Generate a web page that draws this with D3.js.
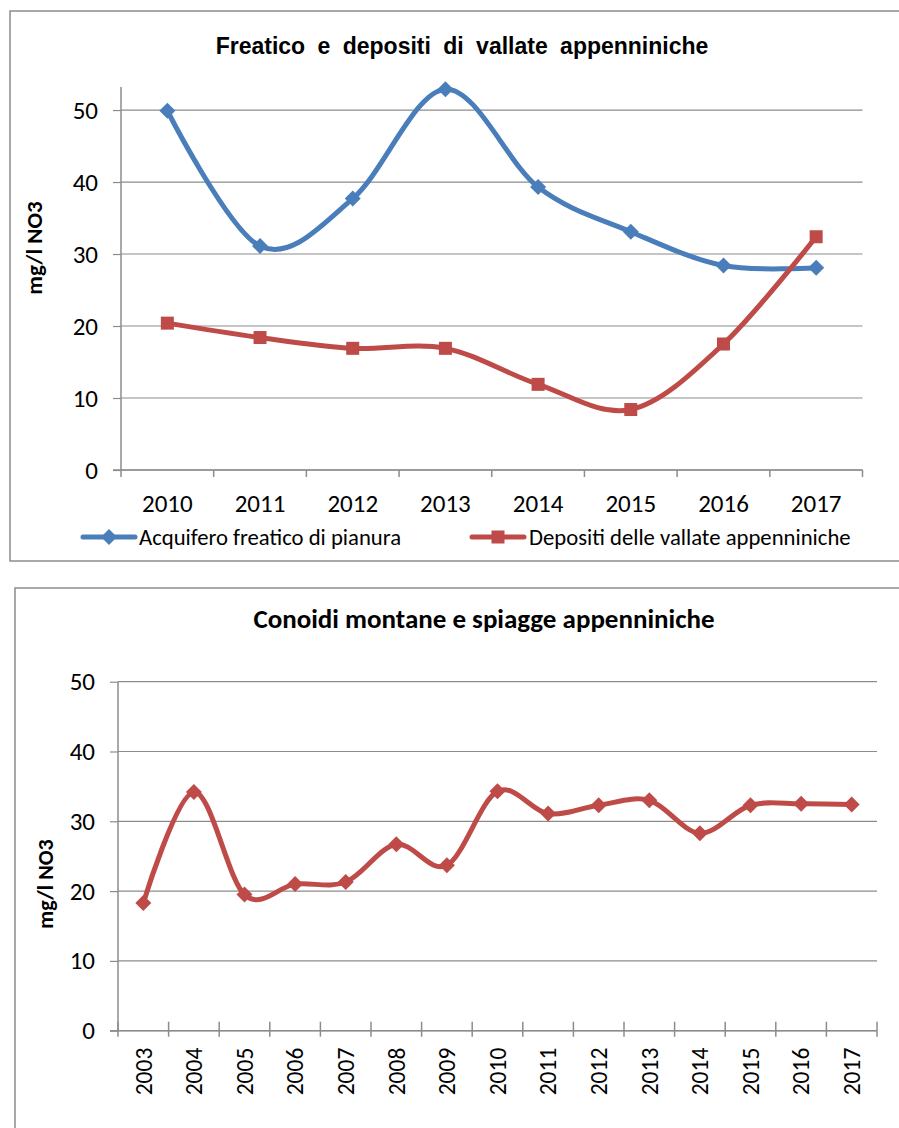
<!DOCTYPE html>
<html>
<head>
<meta charset="utf-8">
<script src="https://cdn.jsdelivr.net/npm/d3@7"></script>
<style>
  body { margin: 0; background: #fff; }
  svg { display: block; }
</style>
</head>
<body>
<svg id="c" width="899" height="1128"></svg>
<script>
// ---------- DATA ----------
const years1 = ["2010", "2011", "2012", "2013", "2014", "2015", "2016", "2017"];
const acquiferoFreatico = [49.9, 31.1, 37.7, 52.9, 39.3, 33.1, 28.4, 28.1];
const depositiVallate = [20.4, 18.4, 16.9, 16.9, 11.9, 8.4, 17.5, 32.4];
const seriesNames1 = ["Acquifero freatico di pianura", "Depositi delle vallate appenniniche"];
const title1 = "Freatico e depositi di vallate appenniniche";

const years2 = ["2003", "2004", "2005", "2006", "2007", "2008", "2009", "2010",
                "2011", "2012", "2013", "2014", "2015", "2016", "2017"];
const conoidiMontane = [18.3, 34.2, 19.5, 21.0, 21.3, 26.7, 23.7, 34.3,
                        31.1, 32.3, 33.0, 28.3, 32.3, 32.5, 32.4];
const title2 = "Conoidi montane e spiagge appenniniche";

const yTicks = [0, 10, 20, 30, 40, 50];
const yTitle = "mg/l NO3";

// ---------- STYLE ----------
const BLUE = "#4A7EBB", RED = "#BE4B48", GRID = "#8c8c8c", BORDER = "#8c8c8c";
const labelFont = "Carlito, Calibri, Lato, sans-serif";
const svg = d3.select("#c");
const curve = d3.curveCardinal.tension(0);

function diamond(g, x, y, r, color) {
  g.append("path")
    .attr("d", `M${x},${y - r}L${x + r},${y}L${x},${y + r}L${x - r},${y}Z`)
    .attr("fill", color);
}
function square(g, x, y, s, color) {
  g.append("rect").attr("x", x - s / 2).attr("y", y - s / 2)
    .attr("width", s).attr("height", s).attr("fill", color);
}

function drawFrame(x0, y0, x1, y1) {
  svg.append("rect").attr("x", x0).attr("y", y0)
    .attr("width", x1 - x0).attr("height", y1 - y0)
    .attr("fill", "none").attr("stroke", BORDER).attr("stroke-width", 1.5);
}

function drawAxes(g, x, y, cats, yTop, tickDown, tickUp, rotate, fontSize) {
  const [x0, x1] = x.range();
  g.append("g").selectAll("line").data(yTicks).join("line")
    .attr("x1", x0).attr("x2", x1)
    .attr("y1", d => y(d)).attr("y2", d => y(d))
    .attr("stroke", GRID).attr("stroke-width", 1.2);
  const ya = g.append("g").attr("transform", `translate(${x0},0)`)
    .call(d3.axisLeft(y).tickValues(yTicks).tickSize(8).tickPadding(15));
  ya.select(".domain").remove();
  ya.selectAll("line").attr("stroke", GRID).attr("stroke-width", 1.2);
  ya.selectAll("text").attr("font-family", labelFont).attr("font-size", 25).attr("fill", "#000");
  g.append("line").attr("x1", x0).attr("x2", x0).attr("y1", y(0)).attr("y2", yTop)
    .attr("stroke", GRID).attr("stroke-width", 1.5);
  g.append("line").attr("x1", x0 - 8).attr("x2", x1).attr("y1", y(0)).attr("y2", y(0))
    .attr("stroke", GRID).attr("stroke-width", 1.5);
  const bounds = d3.range(cats.length + 1).map(i => x0 + i * x.step());
  g.append("g").selectAll("line").data(bounds).join("line")
    .attr("x1", d => d).attr("x2", d => d)
    .attr("y1", y(0) - tickUp).attr("y2", y(0) + tickDown)
    .attr("stroke", GRID).attr("stroke-width", 1.5);
  const xa = g.append("g").attr("transform", `translate(0,${y(0)})`)
    .call(d3.axisBottom(x).tickSize(0).tickPadding(0));
  xa.select(".domain").remove();
  xa.selectAll("text").attr("font-family", labelFont).attr("font-size", fontSize).attr("fill", "#000");
  if (rotate) {
    xa.selectAll("text")
      .attr("transform", "rotate(-90)")
      .attr("text-anchor", "end")
      .attr("dy", "0.35em")
      .attr("x", -17).attr("y", 0);
  } else {
    xa.selectAll("text").attr("dy", "0").attr("y", 42);
  }
}

// ================= CHART 1 =================
drawFrame(10, 11, 905, 561);
const g1 = svg.append("g");
const x1 = d3.scaleBand().domain(years1).range([121, 862.5]).padding(0);
const y1 = d3.scaleLinear().domain([0, 53.2]).range([470, 87]);
drawAxes(g1, x1, y1, years1, 87, 7, 0, false, 25);

g1.append("text").attr("x", 462).attr("y", 54).attr("text-anchor", "middle")
  .style("font-family", "'Liberation Sans', Arial, sans-serif").attr("font-weight", "bold")
  .attr("font-size", 23).attr("word-spacing", 6).text(title1);
g1.append("text").attr("transform", "translate(42,248) rotate(-90)")
  .attr("text-anchor", "middle").attr("font-family", labelFont).attr("font-weight", "bold")
  .attr("font-size", 23).text(yTitle);

const xc1 = d => x1(d) + x1.bandwidth() / 2;
const line1 = d3.line().x(d => xc1(d[0])).y(d => y1(d[1])).curve(curve);
const blueData = years1.map((yr, i) => [yr, acquiferoFreatico[i]]);
const redData = years1.map((yr, i) => [yr, depositiVallate[i]]);
g1.append("path").attr("d", line1(blueData)).attr("fill", "none")
  .attr("stroke", BLUE).attr("stroke-width", 5).attr("stroke-linejoin", "round");
g1.append("path").attr("d", line1(redData)).attr("fill", "none")
  .attr("stroke", RED).attr("stroke-width", 5).attr("stroke-linejoin", "round");
blueData.forEach(d => diamond(g1, xc1(d[0]), y1(d[1]), 8, BLUE));
redData.forEach(d => square(g1, xc1(d[0]), y1(d[1]), 13, RED));

// legend
const lg = svg.append("g");
const legY = 537;
lg.append("line").attr("x1", 83).attr("x2", 135).attr("y1", legY).attr("y2", legY)
  .attr("stroke", BLUE).attr("stroke-width", 5).attr("stroke-linecap", "round");
diamond(lg, 109, legY, 8, BLUE);
lg.append("text").attr("x", 139).attr("y", legY).attr("dy", "0.35em")
  .attr("font-family", labelFont).attr("font-size", 22.7).text(seriesNames1[0]);
lg.append("line").attr("x1", 472).attr("x2", 524).attr("y1", legY).attr("y2", legY)
  .attr("stroke", RED).attr("stroke-width", 5).attr("stroke-linecap", "round");
square(lg, 498, legY, 13, RED);
lg.append("text").attr("x", 529).attr("y", legY).attr("dy", "0.35em")
  .attr("font-family", labelFont).attr("font-size", 22.7).text(seriesNames1[1]);

// ================= CHART 2 =================
drawFrame(15, 588, 910, 1140);
const g2 = svg.append("g");
const x2 = d3.scaleBand().domain(years2).range([118, 877]).padding(0);
const y2 = d3.scaleLinear().domain([0, 50]).range([1030.7, 681.7]);
drawAxes(g2, x2, y2, years2, 681.7, 6, 9, true, 23.5);

g2.append("text").attr("x", 484).attr("y", 628).attr("text-anchor", "middle")
  .attr("font-family", labelFont).attr("font-weight", "bold")
  .attr("font-size", 27).text(title2);
g2.append("text").attr("transform", "translate(53,884) rotate(-90)")
  .attr("text-anchor", "middle").attr("font-family", labelFont).attr("font-weight", "bold")
  .attr("font-size", 22).text(yTitle);

const xc2 = d => x2(d) + x2.bandwidth() / 2;
const line2 = d3.line().x(d => xc2(d[0])).y(d => y2(d[1])).curve(curve);
const conData = years2.map((yr, i) => [yr, conoidiMontane[i]]);
g2.append("path").attr("d", line2(conData)).attr("fill", "none")
  .attr("stroke", RED).attr("stroke-width", 5).attr("stroke-linejoin", "round");
conData.forEach(d => diamond(g2, xc2(d[0]), y2(d[1]), 8, RED));
</script>
</body>
</html>
